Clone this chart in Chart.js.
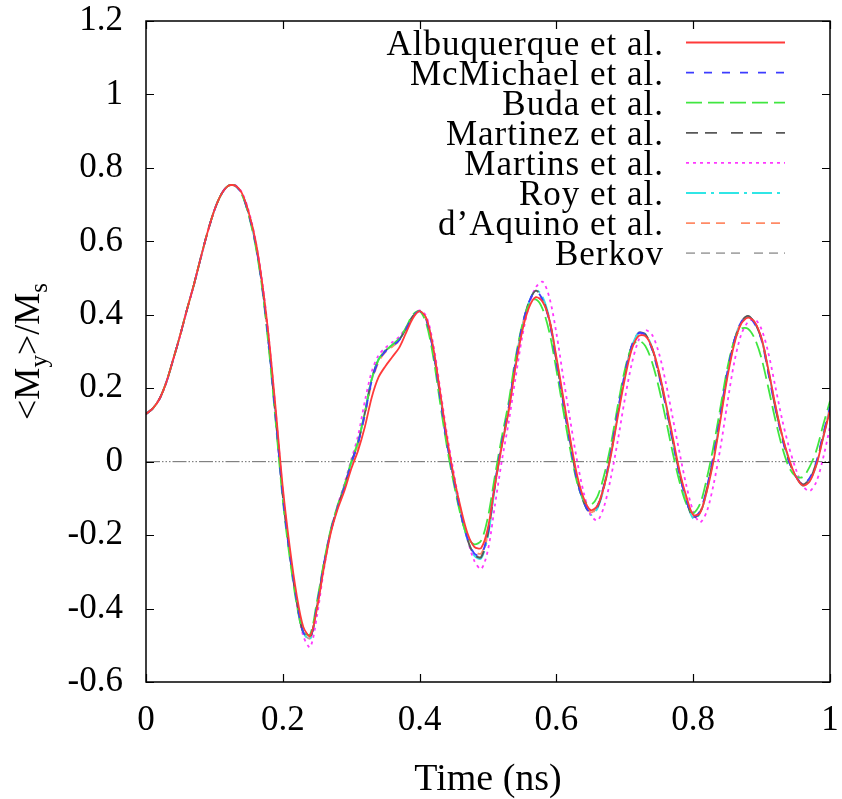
<!DOCTYPE html>
<html>
<head>
<meta charset="utf-8">
<script src="https://cdn.jsdelivr.net/npm/chart.js@4/dist/chart.umd.min.js"></script>
<style>
html,body{margin:0;padding:0;background:#fff;}
canvas{display:block;}
</style>
</head>
<body>
<canvas id="c" width="842" height="799"></canvas>
<script>
// ---------------- DATA ----------------
const timeNs = [0.00,0.01,0.02,0.03,0.04,0.05,0.06,0.07,0.08,0.09,
0.10,0.11,0.12,0.13,0.14,0.15,0.16,0.17,0.18,0.19,
0.20,0.21,0.22,0.23,0.24,0.25,0.26,0.27,0.28,0.29,
0.30,0.31,0.32,0.33,0.34,0.35,0.36,0.37,0.38,0.39,
0.40,0.41,0.42,0.43,0.44,0.45,0.46,0.47,0.48,0.49,
0.50,0.51,0.52,0.53,0.54,0.55,0.56,0.57,0.58,0.59,
0.60,0.61,0.62,0.63,0.64,0.65,0.66,0.67,0.68,0.69,
0.70,0.71,0.72,0.73,0.74,0.75,0.76,0.77,0.78,0.79,
0.80,0.81,0.82,0.83,0.84,0.85,0.86,0.87,0.88,0.89,
0.90,0.91,0.92,0.93,0.94,0.95,0.96,0.97,0.98,0.99,
1.00];

const seriesNames = ["Albuquerque et al.","McMichael et al.","Buda et al.","Martinez et al.","Martins et al.","Roy et al.","d\u2019Aquino et al.","Berkov"];

const albuquerque = [0.130,0.145,0.172,0.218,0.280,0.345,0.415,0.482,0.555,0.625,
0.685,0.728,0.751,0.752,0.732,0.680,0.603,0.485,0.330,0.135,
-0.070,-0.230,-0.360,-0.450,-0.475,-0.400,-0.290,-0.195,-0.130,-0.080,
-0.020,0.030,0.095,0.175,0.230,0.260,0.285,0.310,0.350,0.390,
0.410,0.390,0.310,0.190,0.065,-0.040,-0.125,-0.195,-0.232,-0.235,
-0.180,-0.065,0.040,0.135,0.255,0.355,0.420,0.448,0.435,0.385,
0.285,0.175,0.065,-0.035,-0.100,-0.132,-0.120,-0.065,0.020,0.125,
0.225,0.305,0.342,0.342,0.310,0.245,0.160,0.068,-0.025,-0.095,
-0.145,-0.140,-0.080,0.005,0.115,0.230,0.320,0.375,0.392,0.380,
0.335,0.250,0.155,0.072,0.008,-0.040,-0.065,-0.055,-0.010,0.065,
0.140];

const mcmichael = [0.130,0.145,0.172,0.218,0.280,0.345,0.415,0.482,0.555,0.625,
0.685,0.728,0.751,0.752,0.730,0.675,0.595,0.475,0.310,0.110,
-0.095,-0.250,-0.375,-0.465,-0.480,-0.390,-0.280,-0.190,-0.125,-0.070,
-0.005,0.050,0.130,0.220,0.275,0.300,0.315,0.330,0.360,0.395,
0.410,0.385,0.300,0.175,0.050,-0.050,-0.140,-0.210,-0.250,-0.255,
-0.190,-0.060,0.050,0.145,0.270,0.370,0.435,0.465,0.440,0.380,
0.270,0.160,0.050,-0.050,-0.110,-0.140,-0.120,-0.060,0.030,0.140,
0.240,0.315,0.350,0.345,0.305,0.235,0.150,0.055,-0.035,-0.105,
-0.150,-0.135,-0.070,0.020,0.130,0.245,0.330,0.380,0.395,0.375,
0.330,0.240,0.145,0.065,0.000,-0.040,-0.060,-0.045,0.000,0.075,
0.150];

const buda = [0.130,0.145,0.172,0.218,0.280,0.345,0.415,0.482,0.555,0.625,
0.685,0.728,0.751,0.752,0.728,0.672,0.590,0.470,0.300,0.100,
-0.105,-0.260,-0.385,-0.465,-0.470,-0.380,-0.275,-0.185,-0.120,-0.065,
0.000,0.055,0.135,0.225,0.278,0.302,0.318,0.335,0.365,0.400,
0.410,0.375,0.285,0.160,0.040,-0.060,-0.145,-0.205,-0.225,-0.215,
-0.150,-0.040,0.065,0.160,0.280,0.372,0.428,0.442,0.415,0.350,
0.250,0.140,0.035,-0.055,-0.105,-0.118,-0.095,-0.035,0.050,0.155,
0.250,0.312,0.330,0.315,0.270,0.200,0.115,0.025,-0.055,-0.115,
-0.140,-0.115,-0.045,0.045,0.150,0.255,0.330,0.362,0.362,0.335,
0.280,0.200,0.115,0.040,-0.015,-0.040,-0.042,-0.015,0.030,0.100,
0.165];

const martinez = [0.130,0.145,0.172,0.218,0.280,0.345,0.415,0.482,0.555,0.625,
0.685,0.728,0.751,0.752,0.730,0.676,0.597,0.477,0.312,0.112,
-0.093,-0.250,-0.377,-0.467,-0.482,-0.392,-0.280,-0.190,-0.124,-0.068,
-0.003,0.052,0.133,0.224,0.278,0.302,0.317,0.332,0.362,0.396,
0.410,0.386,0.302,0.178,0.052,-0.048,-0.140,-0.212,-0.254,-0.260,
-0.196,-0.066,0.046,0.142,0.266,0.368,0.435,0.466,0.442,0.383,
0.274,0.164,0.054,-0.047,-0.110,-0.142,-0.124,-0.064,0.026,0.136,
0.238,0.314,0.351,0.347,0.308,0.238,0.153,0.058,-0.033,-0.105,
-0.152,-0.138,-0.074,0.016,0.126,0.242,0.328,0.380,0.397,0.378,
0.333,0.244,0.149,0.068,0.002,-0.040,-0.062,-0.049,-0.004,0.070,
0.145];

const martins = [0.130,0.145,0.171,0.216,0.278,0.343,0.413,0.480,0.553,0.623,
0.684,0.728,0.751,0.753,0.734,0.684,0.605,0.490,0.330,0.130,
-0.080,-0.245,-0.380,-0.475,-0.505,-0.420,-0.295,-0.190,-0.120,-0.060,
0.005,0.070,0.165,0.245,0.290,0.310,0.325,0.340,0.365,0.395,
0.412,0.395,0.320,0.200,0.075,-0.030,-0.130,-0.210,-0.270,-0.292,
-0.240,-0.120,0.000,0.105,0.225,0.340,0.425,0.475,0.490,0.445,
0.350,0.230,0.115,0.005,-0.085,-0.145,-0.160,-0.120,-0.040,0.060,
0.170,0.265,0.330,0.358,0.345,0.295,0.215,0.120,0.025,-0.065,
-0.135,-0.165,-0.135,-0.060,0.040,0.160,0.270,0.345,0.380,0.388,
0.360,0.295,0.205,0.115,0.040,-0.020,-0.065,-0.080,-0.055,0.010,
0.095];

const roy = [0.130,0.145,0.172,0.218,0.280,0.345,0.415,0.482,0.555,0.625,
0.685,0.728,0.751,0.752,0.730,0.675,0.596,0.476,0.312,0.112,
-0.092,-0.248,-0.375,-0.466,-0.484,-0.395,-0.282,-0.190,-0.124,-0.068,
-0.004,0.052,0.134,0.226,0.280,0.304,0.318,0.333,0.362,0.396,
0.410,0.387,0.304,0.180,0.055,-0.046,-0.138,-0.212,-0.256,-0.264,
-0.202,-0.072,0.042,0.138,0.262,0.365,0.434,0.468,0.448,0.388,
0.280,0.170,0.058,-0.045,-0.110,-0.145,-0.128,-0.068,0.022,0.132,
0.235,0.312,0.350,0.348,0.310,0.242,0.156,0.060,-0.032,-0.105,
-0.155,-0.142,-0.078,0.012,0.122,0.240,0.327,0.378,0.394,0.378,
0.335,0.248,0.152,0.070,0.004,-0.040,-0.065,-0.052,-0.008,0.066,
0.142];

const daquino = [0.130,0.145,0.172,0.218,0.280,0.345,0.415,0.482,0.555,0.625,
0.685,0.728,0.751,0.752,0.731,0.677,0.599,0.480,0.318,0.118,
-0.088,-0.245,-0.372,-0.462,-0.480,-0.393,-0.283,-0.192,-0.126,-0.072,
-0.008,0.046,0.126,0.215,0.272,0.298,0.313,0.328,0.358,0.394,
0.410,0.388,0.305,0.182,0.058,-0.044,-0.134,-0.205,-0.244,-0.250,
-0.192,-0.066,0.044,0.140,0.262,0.362,0.428,0.456,0.440,0.385,
0.280,0.170,0.060,-0.042,-0.106,-0.138,-0.122,-0.064,0.024,0.132,
0.232,0.308,0.346,0.346,0.310,0.242,0.158,0.063,-0.028,-0.100,
-0.150,-0.140,-0.078,0.012,0.122,0.236,0.324,0.376,0.394,0.379,
0.336,0.250,0.154,0.071,0.006,-0.039,-0.063,-0.052,-0.008,0.068,
0.143];

const berkov = [0.130,0.145,0.172,0.218,0.280,0.345,0.415,0.482,0.555,0.625,
0.685,0.728,0.751,0.752,0.730,0.675,0.595,0.476,0.311,0.111,
-0.094,-0.250,-0.376,-0.466,-0.481,-0.391,-0.280,-0.189,-0.124,-0.069,
-0.004,0.051,0.132,0.222,0.277,0.301,0.316,0.331,0.361,0.396,
0.410,0.386,0.302,0.177,0.052,-0.049,-0.140,-0.211,-0.252,-0.258,
-0.194,-0.064,0.047,0.143,0.268,0.369,0.435,0.466,0.442,0.382,
0.272,0.162,0.052,-0.048,-0.110,-0.141,-0.122,-0.062,0.028,0.138,
0.239,0.315,0.351,0.346,0.306,0.236,0.152,0.057,-0.034,-0.105,
-0.151,-0.137,-0.072,0.018,0.128,0.244,0.330,0.380,0.396,0.377,
0.332,0.242,0.147,0.066,0.001,-0.040,-0.061,-0.047,-0.002,0.072,
0.148];

const xTickValues = [0, 0.2, 0.4, 0.6, 0.8, 1];
const yTickValues = [-0.6, -0.4, -0.2, 0, 0.2, 0.4, 0.6, 0.8, 1, 1.2];
const xAxisTitle = "Time (ns)";

// ---------------- STYLES ----------------
const seriesValues = [albuquerque, mcmichael, buda, martinez, martins, roy, daquino, berkov];
const seriesColors = ['#ff3a3a', '#3c3cff', '#40e640', '#585858', '#ff38ff', '#30e6e6', '#ff8a66', '#a8a8a8'];
const seriesDashes = [[], [8,10], [16,6], [12,7,12,14], [3,4], [20,5,3,5], [9,6,9,6,9,16], [9,6,9,6,9,6,9,14]];

const datasets = seriesNames.map((name, i) => ({
  label: name,
  data: timeNs.map((t, k) => ({x: t, y: seriesValues[i][k]})),
  borderColor: seriesColors[i],
  backgroundColor: seriesColors[i],
  borderWidth: 1.8,
  borderDash: seriesDashes[i],
  pointRadius: 0,
  tension: 0.3,
  fill: false
}));

const SERIF = '"Liberation Serif", "Times New Roman", serif';
const fmt = v => String(Number(Number(v).toFixed(1)));
const noPad = s => { s.paddingTop = 0; s.paddingBottom = 0; s.paddingLeft = 0; s.paddingRight = 0; };

const decorPlugin = {
  id: 'decor',
  beforeDatasetsDraw(chart) {
    const {ctx, chartArea: a, scales: {y}} = chart;
    const y0 = y.getPixelForValue(0);
    ctx.save();
    ctx.strokeStyle = '#6a6a6a';
    ctx.lineWidth = 1;
    ctx.setLineDash([14, 2, 1.5, 2, 1.5, 2, 1.5, 2]);
    ctx.beginPath();
    ctx.moveTo(a.left, y0);
    ctx.lineTo(a.right, y0);
    ctx.stroke();
    ctx.restore();
  },
  afterDraw(chart) {
    const {ctx, chartArea: a, scales: {x, y}} = chart;
    ctx.save();
    // frame
    ctx.strokeStyle = '#000';
    ctx.lineWidth = 1.5;
    ctx.setLineDash([]);
    ctx.strokeRect(a.left, a.top, a.right - a.left, a.bottom - a.top);
    // inward ticks (mirrored)
    ctx.lineWidth = 1.2;
    ctx.beginPath();
    const tl = 8;
    y.ticks.forEach(t => {
      const py = Math.round(y.getPixelForValue(t.value)) + 0.5;
      ctx.moveTo(a.left, py); ctx.lineTo(a.left + tl, py);
      ctx.moveTo(a.right, py); ctx.lineTo(a.right - tl, py);
    });
    x.ticks.forEach(t => {
      const px = Math.round(x.getPixelForValue(t.value)) + 0.5;
      ctx.moveTo(px, a.bottom); ctx.lineTo(px, a.bottom - tl);
      ctx.moveTo(px, a.top); ctx.lineTo(px, a.top + tl);
    });
    ctx.stroke();

    // legend (right-aligned text, line sample to the right)
    ctx.font = '35px ' + SERIF;
    ctx.fillStyle = '#000';
    ctx.textAlign = 'right';
    ctx.textBaseline = 'alphabetic';
    try { ctx.letterSpacing = '1px'; } catch (e) {}
    chart.data.datasets.forEach((ds, i) => {
      const ry = a.top + 21.5 + i * 30.1;
      ctx.fillText(ds.label, 664, ry + 12);
      ctx.save();
      ctx.strokeStyle = ds.borderColor;
      ctx.lineWidth = ds.borderWidth;
      ctx.setLineDash(ds.borderDash || []);
      ctx.beginPath();
      ctx.moveTo(686, ry);
      ctx.lineTo(785, ry);
      ctx.stroke();
      ctx.restore();
    });
    try { ctx.letterSpacing = '0px'; } catch (e) {}

    // x axis title
    ctx.font = '38px ' + SERIF;
    ctx.textAlign = 'center';
    ctx.textBaseline = 'alphabetic';
    ctx.fillText(xAxisTitle, (a.left + a.right) / 2, 790);

    // y axis title: <M_y>/M_s (rotated)
    const big = '36px ' + SERIF, small = '25px ' + SERIF;
    const parts = [['<M', big, 0], ['y', small, 8], ['>/M', big, 0], ['s', small, 8]];
    let total = 0;
    parts.forEach(p => { ctx.font = p[1]; total += ctx.measureText(p[0]).width; });
    ctx.translate(39, (a.top + a.bottom) / 2);
    ctx.rotate(-Math.PI / 2);
    ctx.textAlign = 'left';
    let cx = -total / 2;
    parts.forEach(p => {
      ctx.font = p[1];
      ctx.fillText(p[0], cx, p[2]);
      cx += ctx.measureText(p[0]).width;
    });
    ctx.restore();
  }
};

new Chart(document.getElementById('c'), {
  type: 'line',
  data: { datasets },
  options: {
    responsive: false,
    animation: false,
    devicePixelRatio: 1,
    layout: { padding: { left: 0, top: 21, right: 12, bottom: 0 } },
    plugins: { legend: { display: false }, tooltip: { enabled: false }, title: { display: false } },
    scales: {
      x: {
        type: 'linear', min: 0, max: 1,
        afterBuildTicks: s => { s.ticks = xTickValues.map(v => ({value: v})); },
        afterFit: s => { s.height = 117; noPad(s); },
        grid: { display: false, drawTicks: false },
        border: { display: false },
        ticks: { font: { family: SERIF, size: 35 }, color: '#000', padding: 18, maxRotation: 0, autoSkip: false, callback: v => fmt(v) }
      },
      y: {
        type: 'linear', min: -0.6, max: 1.2,
        afterBuildTicks: s => { s.ticks = yTickValues.map(v => ({value: v})); },
        afterFit: s => { s.width = 146; noPad(s); },
        grid: { display: false, drawTicks: false },
        border: { display: false },
        ticks: { font: { family: SERIF, size: 35 }, color: '#000', padding: 23, autoSkip: false, callback: v => fmt(v) }
      }
    }
  },
  plugins: [decorPlugin]
});
</script>
</body>
</html>
